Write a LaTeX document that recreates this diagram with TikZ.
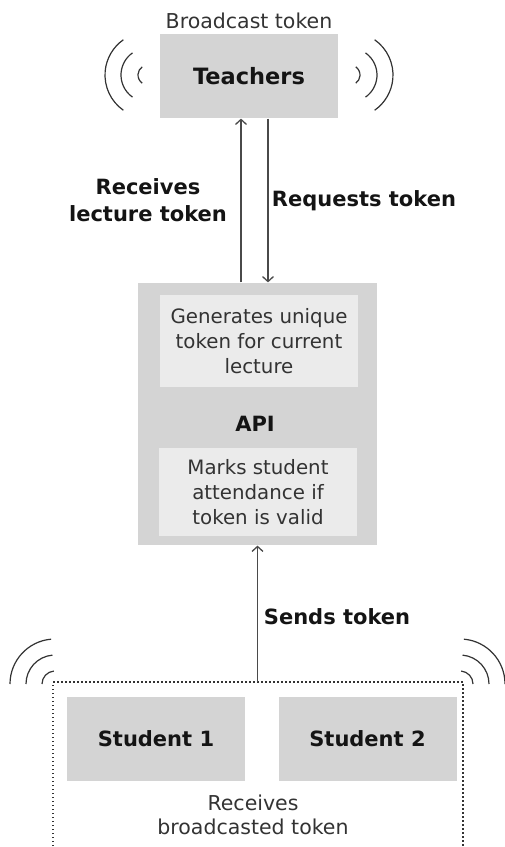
\documentclass[tikz,border=0pt]{standalone}
\usepackage{fontspec}
\setmainfont{DejaVu Sans}
\usepackage{tikz}
\usetikzlibrary{positioning, calc, arrows.meta}

\definecolor{boxgray}{HTML}{D4D4D4}
\definecolor{subgray}{HTML}{EBEBEB}
\definecolor{inkdark}{HTML}{141414}
\definecolor{inkmid}{HTML}{333333}
\definecolor{linegray}{HTML}{4A4A4A}

\begin{document}
\begin{tikzpicture}[x=1pt, y=-1pt, auto, line width=1.2pt, >={Straight Barb[length=5pt,width=11pt,line width=1.3pt]}]
        \useasboundingbox (0,0) rectangle (505,847);

        % Define block styles
        \tikzstyle{block} = [rectangle, fill=boxgray, text=inkdark, minimum width=178pt, minimum height=84pt, font=\bfseries\fontsize{21}{25}\selectfont]
        \tikzstyle{subblock} = [rectangle, fill=subgray, text=inkmid, minimum width=198pt, align=center, font=\fontsize{19.8}{25}\selectfont]
        \tikzstyle{boldlabel} = [text=inkdark, align=center, font=\bfseries\fontsize{21}{27}\selectfont]
        \tikzstyle{plainlabel} = [text=inkmid, align=center, font=\fontsize{20.5}{24}\selectfont]
        \tikzstyle{waves} = [draw=inkmid, line width=1.2pt]

        % Place nodes
        \node [block, font=\bfseries\fontsize{22.5}{25}\selectfont] (teachers) at (249,76) {Teachers};
        \node [rectangle, fill=boxgray, minimum width=239pt, minimum height=262pt] (api) at (257.5,414) {};
        \node [subblock, minimum height=92pt] (gen_token) at (259,341) {Generates unique\\token for current\\lecture};
        \node [boldlabel] (api_label) at (255,424) {API};
        \node [subblock, minimum height=88pt] (mark_attendance) at (258,492) {Marks student\\attendance if\\token is valid};
        \node [block] (student_one) at (156,739) {Student 1};
        \node [block, right of=student_one, node distance=211.5pt] (student_two) {Student 2};
        \coordinate (students_top) at (257.5,682);

        % Group of students
        \draw [inkmid, line width=1.2pt, dash pattern=on 1.5pt off 2.5pt] (53,850) -- (53,682) -- (463,682) -- (463,850);

        % Broadcast waves
        \draw [waves] ([shift={(125:10)}]148,75) arc (125:235:10) ([shift={(125:27)}]148,75) arc (125:235:27) ([shift={(125:43)}]148,75) arc (125:235:43);
        \draw [waves] ([shift={(-55:10)}]350,75) arc (-55:55:10) ([shift={(-55:27)}]350,75) arc (-55:55:27) ([shift={(-55:43)}]350,75) arc (-55:55:43);
        \draw [waves] ([shift={(180:13)}]55,684) arc (180:265:13) ([shift={(180:29)}]55,684) arc (180:265:29) ([shift={(180:45)}]55,684) arc (180:265:45);
        \draw [waves] ([shift={(275:13)}]460,684) arc (275:360:13) ([shift={(275:29)}]460,684) arc (275:360:29) ([shift={(275:45)}]460,684) arc (275:360:45);

        % Draw connections as arrows
        \draw [->, linegray] ([xshift=-8pt]teachers.south |- api.north) -- ([xshift=-8pt]teachers.south);
        \draw [->, linegray] ([xshift=19pt]teachers.south) -- ([xshift=19pt]teachers.south |- api.north);
        \draw [->, linegray] (students_top) -- (api.south);

        % Add text on the arrows
        \node [plainlabel] (broadcast_label) at (249,21) {Broadcast token};
        \node [boldlabel] (receives_label) at (148,200) {Receives\\lecture token};
        \node [boldlabel, anchor=west] (requests_label) at (268,201) {Requests token};
        \node [boldlabel, anchor=west] (sends_label) at (260,617) {Sends token};
        \node [plainlabel] (received_label) at (253,815) {Receives\\broadcasted token};
    \end{tikzpicture}
\end{document}
